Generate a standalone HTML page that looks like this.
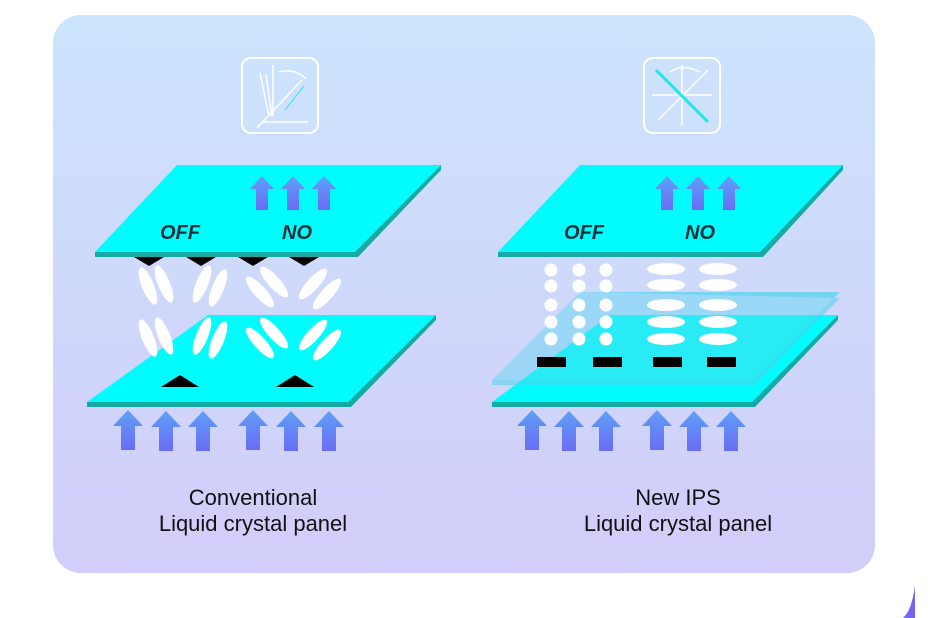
<!DOCTYPE html>
<html><head><meta charset="utf-8"><style>
html,body{margin:0;padding:0;background:#fff;width:930px;height:618px;overflow:hidden}
svg{display:block}
</style></head><body>
<svg width="930" height="618" viewBox="0 0 930 618" xmlns="http://www.w3.org/2000/svg">
<defs>
<linearGradient id="bg" x1="0" y1="0" x2="0" y2="1">
<stop offset="0" stop-color="#cce4fc"/><stop offset="1" stop-color="#d2cdfa"/></linearGradient>
<linearGradient id="ar" x1="0" y1="0" x2="0" y2="1">
<stop offset="0" stop-color="#5fa0f6"/><stop offset="1" stop-color="#6a6cf6"/></linearGradient>
<g id="arB"><path d="M-15,16 L0,0 L15,16 L7,16 L7,40 L-7,40 L-7,16 Z" fill="url(#ar)"/></g>
<g id="arS"><path d="M-12,13 L0,0 L12,13 L6,13 L6,34 L-6,34 L-6,13 Z" fill="url(#ar)"/></g>
</defs>
<rect x="53" y="15" width="822" height="558" rx="28" fill="url(#bg)"/>
<path d="M915,585 Q912,610 903,618 L915,618 Z" fill="#7466f4"/>

<!-- icons -->
<g fill="none" stroke="#fff" stroke-width="2">
<rect x="242" y="58" width="76" height="75" rx="9"/>
<path d="M263,122 L308,122 M257,128 L302,80 M269,116 L260,73 M272,117 L266,75 M273,116 L273,65 M279,72 Q295,68 306,79" stroke-width="1.5"/>
<rect x="644" y="58" width="76" height="75" rx="9"/>
<path d="M652,95 L712,95 M682,65 L682,125 M658,120 L708,70 M670,72 Q682,63 700,72" stroke-width="1.5"/>
</g>
<path d="M656,70 L708,122" stroke="#20e8e8" stroke-width="3"/>
<path d="M285,110 L304,86" stroke="#20e8e8" stroke-width="1"/>

<!-- LEFT -->
<polygon points="177,165 441,165 355,252 95,252" fill="#00fcfc"/>
<polygon points="95,252 355,252 441,165 441,170 358,257 95,257" fill="#14aaa6"/>
<polygon points="208,315 436,315 348,402 87,402" fill="#00fcfc"/>
<polygon points="87,402 348,402 436,315 436,320 351,407 87,407" fill="#14aaa6"/>
<g fill="#000">
<polygon points="134,257 164,257 149,266"/><polygon points="186,257 216,257 201,266"/>
<polygon points="238,257 268,257 253,266"/><polygon points="289,257 319,257 304,266"/>
<polygon points="161,387 199,387 180,375"/><polygon points="276,387 314,387 295,375"/>
</g>
<g fill="#fff">
<ellipse cx="148" cy="286" rx="6" ry="20" transform="rotate(-22 148 286)"/>
<ellipse cx="164" cy="284" rx="6" ry="20" transform="rotate(-22 164 284)"/>
<ellipse cx="202" cy="284" rx="6" ry="20" transform="rotate(22 202 284)"/>
<ellipse cx="218" cy="288" rx="6" ry="20" transform="rotate(22 218 288)"/>
<ellipse cx="148" cy="338" rx="6" ry="20" transform="rotate(-22 148 338)"/>
<ellipse cx="164" cy="336" rx="6" ry="20" transform="rotate(-22 164 336)"/>
<ellipse cx="202" cy="336" rx="6" ry="20" transform="rotate(22 202 336)"/>
<ellipse cx="218" cy="340" rx="6" ry="20" transform="rotate(22 218 340)"/>
<ellipse cx="260" cy="292" rx="6" ry="20" transform="rotate(-42 260 292)"/>
<ellipse cx="274" cy="282" rx="6" ry="20" transform="rotate(-42 274 282)"/>
<ellipse cx="313" cy="284" rx="6" ry="20" transform="rotate(42 313 284)"/>
<ellipse cx="327" cy="294" rx="6" ry="20" transform="rotate(42 327 294)"/>
<ellipse cx="260" cy="343" rx="6" ry="20" transform="rotate(-42 260 343)"/>
<ellipse cx="274" cy="333" rx="6" ry="20" transform="rotate(-42 274 333)"/>
<ellipse cx="313" cy="335" rx="6" ry="20" transform="rotate(42 313 335)"/>
<ellipse cx="327" cy="345" rx="6" ry="20" transform="rotate(42 327 345)"/>
</g>
<use href="#arS" x="262" y="176"/><use href="#arS" x="293" y="176"/><use href="#arS" x="324" y="176"/>
<use href="#arB" x="128" y="410"/><use href="#arB" x="166" y="411"/><use href="#arB" x="203" y="411"/>
<use href="#arB" x="253" y="410"/><use href="#arB" x="291" y="411"/><use href="#arB" x="329" y="411"/>

<!-- RIGHT -->
<polygon points="580,165 843,165 760,252 498,252" fill="#00fcfc"/>
<polygon points="498,252 760,252 843,165 843,170 763,257 498,257" fill="#14aaa6"/>
<polygon points="610,315 838,315 752,402 492,402" fill="#00fcfc"/>
<polygon points="492,402 752,402 838,315 838,320 755,407 492,407" fill="#14aaa6"/>
<polygon points="580,292 840,292 752,380 492,380 492,385 755,385 840,298" fill="#4fd0ee" opacity="0.55"/>
<polygon points="580,292 840,292 752,380 492,380" fill="#5ad8f0" opacity="0.45"/>
<g fill="#fff">
<circle cx="551" cy="270" r="6.5"/><circle cx="579" cy="270" r="6.5"/><circle cx="606" cy="270" r="6.5"/>
<circle cx="551" cy="286" r="6.5"/><circle cx="579" cy="286" r="6.5"/><circle cx="606" cy="286" r="6.5"/>
<circle cx="551" cy="305" r="6.5"/><circle cx="579" cy="305" r="6.5"/><circle cx="606" cy="305" r="6.5"/>
<circle cx="551" cy="322" r="6.5"/><circle cx="579" cy="322" r="6.5"/><circle cx="606" cy="322" r="6.5"/>
<circle cx="551" cy="339" r="6.5"/><circle cx="579" cy="339" r="6.5"/><circle cx="606" cy="339" r="6.5"/>
<ellipse cx="666" cy="269" rx="19" ry="6"/><ellipse cx="718" cy="269" rx="19" ry="6"/>
<ellipse cx="666" cy="285" rx="19" ry="6"/><ellipse cx="718" cy="285" rx="19" ry="6"/>
<ellipse cx="666" cy="305" rx="19" ry="6"/><ellipse cx="718" cy="305" rx="19" ry="6"/>
<ellipse cx="666" cy="322" rx="19" ry="6"/><ellipse cx="718" cy="322" rx="19" ry="6"/>
<ellipse cx="666" cy="339" rx="19" ry="6"/><ellipse cx="718" cy="339" rx="19" ry="6"/>
</g>
<g fill="#000">
<rect x="537" y="357" width="29" height="10"/><rect x="593" y="357" width="29" height="10"/>
<rect x="653" y="357" width="29" height="10"/><rect x="707" y="357" width="29" height="10"/>
</g>
<use href="#arS" x="667" y="176"/><use href="#arS" x="698" y="176"/><use href="#arS" x="729" y="176"/>
<use href="#arB" x="532" y="410"/><use href="#arB" x="569" y="411"/><use href="#arB" x="606" y="411"/>
<use href="#arB" x="657" y="410"/><use href="#arB" x="694" y="411"/><use href="#arB" x="731" y="411"/>

<g font-family="Liberation Sans, sans-serif" font-weight="bold" font-style="italic" font-size="20" fill="#15303a" text-anchor="middle">
<text x="180" y="239">OFF</text><text x="297" y="239">NO</text>
<text x="584" y="239">OFF</text><text x="700" y="239">NO</text>
</g>

<g font-family="Liberation Sans, sans-serif" font-size="22" fill="#111" text-anchor="middle">
<text x="253" y="505">Conventional</text><text x="253" y="531">Liquid crystal panel</text>
<text x="678" y="505">New IPS</text><text x="678" y="531">Liquid crystal panel</text>
</g>
</svg>
</body></html>
